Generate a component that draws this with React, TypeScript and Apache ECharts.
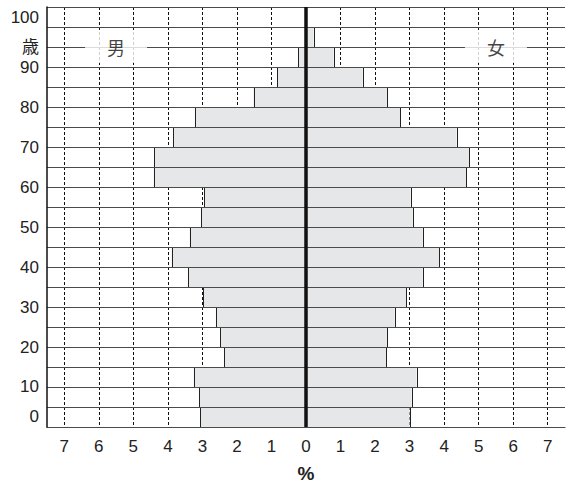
import React, { useEffect, useRef } from 'react';
import * as echarts from 'echarts';

const ageGroups = ['0-4', '5-9', '10-14', '15-19', '20-24', '25-29', '30-34', '35-39', '40-44', '45-49', '50-54', '55-59', '60-64', '65-69', '70-74', '75-79', '80-84', '85-89', '90-94', '95-99', '100-'];
const maleShare = [3.07, 3.10, 3.25, 2.37, 2.49, 2.61, 2.97, 3.42, 3.89, 3.37, 3.03, 2.95, 4.41, 4.40, 3.85, 3.22, 1.52, 0.83, 0.23, 0.04, 0];
const femaleShare = [3.00, 3.06, 3.20, 2.33, 2.34, 2.57, 2.91, 3.38, 3.85, 3.38, 3.09, 3.03, 4.64, 4.73, 4.36, 2.73, 2.34, 1.64, 0.80, 0.22, 0];
const sexLabels = ['男', '女'];
const sexLabelX = [-5.5, 5.5];
const sexLabelAge = 95;
const ageTickLabels = ['10', '20', '30', '40', '50', '60', '70', '80', '90'];
const ageFirstLabel = '0';
const ageLastLabel = '100';
const ageUnit = '歳';
const percentUnit = '%';

const FONT = '"Liberation Sans", Arial, "Noto Sans CJK JP", sans-serif';

const renderBar = (params: any, api: any) => {
  const v = api.value(0);
  const cat = api.value(1);
  const base = api.coord([0, cat]);
  const end = api.coord([v, cat]);
  const h = api.size([0, 1])[1];
  const top = base[1] - h / 2;
  const x0 = Math.min(base[0], end[0]);
  const w = Math.abs(end[0] - base[0]);
  return {
    type: 'group',
    children: [
      { type: 'rect', shape: { x: x0, y: top, width: w, height: h }, style: { fill: '#e6e7e8' } },
      {
        type: 'line',
        shape: { x1: Math.round(end[0]) + 0.5, y1: top, x2: Math.round(end[0]) + 0.5, y2: top + h },
        style: { stroke: '#222', lineWidth: 1 },
      },
    ],
  };
};

export default function App() {
  const ref = useRef<HTMLDivElement>(null);
  useEffect(() => {
    const chart = echarts.init(ref.current!, null, { renderer: 'svg' });
    const near = (a: number, b: number) => Math.abs(a - b) < 1e-6;
    chart.setOption({
      animation: false,
      textStyle: { fontFamily: FONT },
      grid: { left: 47, top: 7, width: 521, height: 425, containLabel: false },
      xAxis: {
        type: 'value',
        min: -7.5,
        max: 7.5,
        interval: 0.5,
        z: 0,
        axisLine: { show: true, onZero: false, lineStyle: { color: '#444', width: 1.2 } },
        axisTick: { show: false },
        axisLabel: {
          margin: 11,
          fontSize: 17,
          color: '#222',
          fontFamily: FONT,
          formatter: (v: number) => (near(v, Math.round(v)) ? String(Math.abs(Math.round(v))) : ''),
        },
        splitLine: { show: true, lineStyle: { color: ['rgba(0,0,0,0)', '#111'], type: [3, 2], width: 1 } },
        name: percentUnit,
        nameLocation: 'middle',
        nameGap: 37,
        nameTextStyle: { fontSize: 19, fontWeight: 'bold', color: '#222', fontFamily: FONT },
      },
      yAxis: [
        {
          type: 'category',
          data: ageGroups,
          boundaryGap: true,
          z: 3,
          axisLine: { show: false },
          axisTick: { show: false },
          axisLabel: { show: false },
          splitLine: { show: true, interval: 0, lineStyle: { color: '#4a4a4a', width: 1.2 } },
        },
        {
          type: 'value',
          min: 0,
          max: 105,
          interval: 2.5,
          position: 'left',
          z: 4,
          axisLine: { show: true, onZero: false, lineStyle: { color: '#111', width: 1.5 } },
          axisTick: { show: false },
          splitLine: { show: false },
          axisLabel: {
            margin: 8,
            fontSize: 17,
            color: '#222',
            fontFamily: FONT,
            padding: [3, 0, 0, 0],
            formatter: (v: number) => {
              if (near(v, 2.5)) return ageFirstLabel;
              if (near(v, 102.5)) return ageLastLabel;
              if (near(v, 95)) return ageUnit;
              const idx = ageTickLabels.indexOf(String(Math.round(v)));
              if (near(v, Math.round(v)) && idx >= 0) return ageTickLabels[idx];
              return '';
            },
          },
        },
      ],
      series: [
        {
          name: sexLabels[0],
          type: 'custom',
          z: 1,
          xAxisIndex: 0,
          yAxisIndex: 0,
          renderItem: renderBar,
          encode: { x: 0, y: 1 },
          data: maleShare.map((v, i) => [-v, ageGroups[i]]),
        },
        {
          name: sexLabels[1],
          type: 'custom',
          z: 1,
          xAxisIndex: 0,
          yAxisIndex: 0,
          renderItem: renderBar,
          encode: { x: 0, y: 1 },
          data: femaleShare.map((v, i) => [v, ageGroups[i]]),
        },
        {
          type: 'scatter',
          xAxisIndex: 0,
          yAxisIndex: 1,
          z: 6,
          symbolSize: 1,
          itemStyle: { color: 'rgba(0,0,0,0)' },
          data: sexLabels.map((s, i) => [sexLabelX[i], sexLabelAge, s]),
          label: {
            show: true,
            position: 'inside',
            formatter: (p: any) => p.data[2],
            fontSize: 18,
            color: '#111',
            fontFamily: '"Noto Sans CJK JP", sans-serif',
            backgroundColor: '#fff',
            padding: [7, 22],
          },
          markLine: {
            silent: true,
            symbol: 'none',
            label: { show: false },
            lineStyle: { color: '#111', width: 3.5, type: 'solid' },
            data: [{ xAxis: 0 }],
          },
        },
      ],
    });
    return () => chart.dispose();
  }, []);
  return <div ref={ref} style={{ position: 'absolute', left: 0, top: 0, width: 568, height: 488 }} />;
}
